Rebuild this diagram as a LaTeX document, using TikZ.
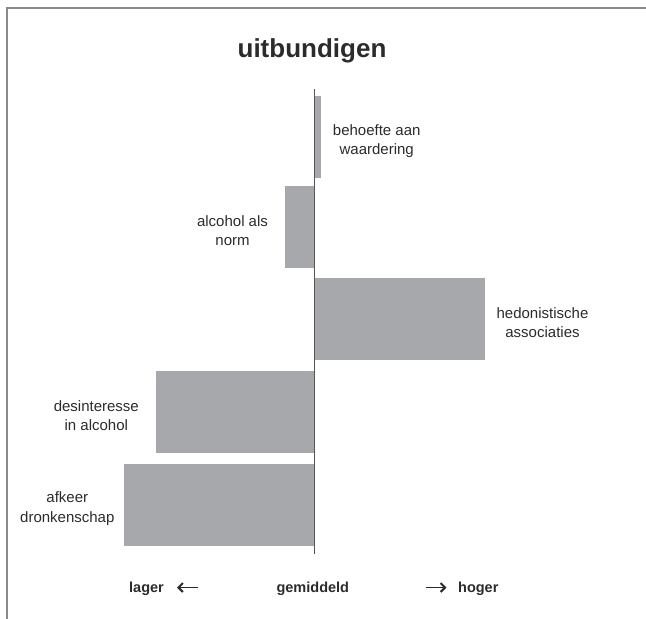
\documentclass[tikz,border=0pt]{standalone}
\usepackage{fontspec}
\setmainfont{Liberation Sans}
\usetikzlibrary{arrows.meta}
\definecolor{bargray}{HTML}{A7A8AB}
\definecolor{ink}{HTML}{2B2B2B}
\definecolor{framegray}{HTML}{8A8A8A}
\begin{document}
\begin{tikzpicture}[x=1pt,y=-1pt,
  bar/.style={fill=bargray,draw=none},
  lbl/.style={align=center,text=ink,inner sep=0pt,font=\fontsize{15}{19.5}\selectfont},
  foot/.style={text=ink,inner sep=0pt,anchor=base,font=\bfseries\fontsize{14.5}{17}\selectfont},
  dirarrow/.style={ink,line width=1.6pt,-{Straight Barb[length=4.5pt,width=9pt,line width=2pt]}}]
\useasboundingbox (0,0) rectangle (646,619);
% frame
\draw[framegray,line width=1.8pt] (7,619) -- (7,7.7) -- (646,7.7);
% title
\node[text=ink,inner sep=0pt,anchor=base,font=\bfseries\fontsize{26}{30}\selectfont] (title) at (312,57.5) {uitbundigen};
% bars
\fill[bar] (314,96) rectangle (321,177.7);
\fill[bar] (285,186) rectangle (314,267.7);
\fill[bar] (314,278) rectangle (485,359.5);
\fill[bar] (156,371) rectangle (314,452.7);
\fill[bar] (124,464) rectangle (314,545.7);
% zero axis
\draw[ink!80,line width=1pt] (314,89) coordinate (axtop) -- (314,553.5) coordinate (axbot);
% bar labels
\node[lbl] (l1) at (376.7,141) {behoefte aan\\waardering};
\node[lbl] (l2) at (232.5,230.5) {alcohol als\\norm};
\node[lbl] (l3) at (542.5,322.5) {hedonistische\\associaties};
\node[lbl] (l4) at (96.3,415.5) {desinteresse\\in alcohol};
\node[lbl] (l5) at (67.3,508.5) {afkeer\\dronkenschap};
% scale legend
\node[foot] (lo) at (146.5,592) {lager};
\node[foot] (mid) at (312.8,592) {gemiddeld};
\node[foot] (hi) at (478.3,592) {hoger};
\coordinate (la1) at (197.5,587.5);
\coordinate (la2) at (177,587.5);
\coordinate (ha1) at (426,587.5);
\coordinate (ha2) at (446.5,587.5);
\draw[dirarrow] (la1) -- (la2);
\draw[dirarrow] (ha1) -- (ha2);
\end{tikzpicture}
\end{document}
